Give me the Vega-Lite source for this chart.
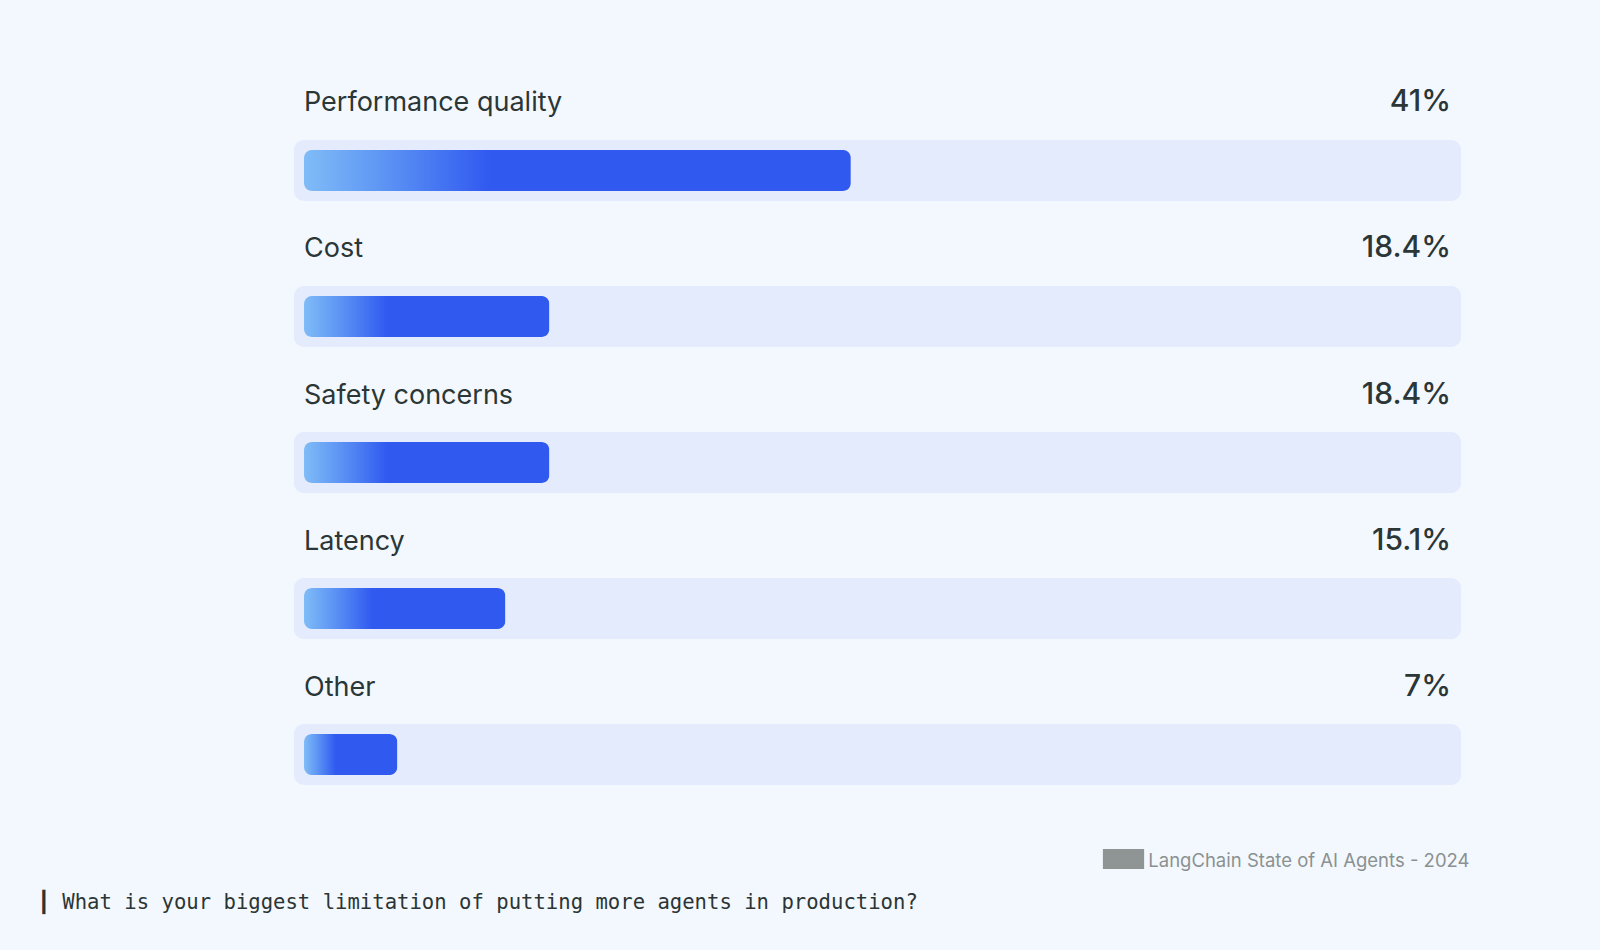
{
  "$schema": "https://vega.github.io/schema/vega-lite/v6.json",
  "width": 1167,
  "height": 645,
  "autosize": {"type": "none"},
  "padding": {"left": 294, "right": 139, "top": 140, "bottom": 165},
  "background": "#f3f8fe",
  "config": {"view": {"stroke": null}},
  "title": {
    "text": "▬",
    "orient": "bottom",
    "anchor": "end",
    "frame": "group",
    "font": "DejaVu Sans",
    "fontSize": 54,
    "fontWeight": "normal",
    "color": "#8f9595",
    "baseline": "middle",
    "offset": 0,
    "dx": -312,
    "dy": -56
  },
  "data": {
    "values": [
      {"category": "Performance quality", "pct": 0.41},
      {"category": "Cost", "pct": 0.184},
      {"category": "Safety concerns", "pct": 0.184},
      {"category": "Latency", "pct": 0.151},
      {"category": "Other", "pct": 0.07}
    ]
  },
  "encoding": {
    "y": {
      "field": "category",
      "type": "nominal",
      "sort": null,
      "scale": {"paddingInner": 0.5825, "paddingOuter": 0},
      "axis": {
        "domain": false, "ticks": false, "labels": false, "grid": false,
        "title": "LangChain State of AI Agents - 2024",
        "titleAngle": 0,
        "titleX": 1175,
        "titleY": 726,
        "titleAlign": "right",
        "titleBaseline": "alphabetic",
        "titleFont": "Inter",
        "titleFontSize": 18.5,
        "titleFontWeight": "normal",
        "titleColor": "#8b9191"
      }
    }
  },
  "layer": [
    {
      "mark": {"type": "bar", "color": "#e3ebfd", "cornerRadius": 10},
      "encoding": {"x": {"value": 0}, "x2": {"value": "width"}}
    },
    {
      "mark": {
        "type": "bar",
        "height": 41,
        "cornerRadius": 8,
        "color": {
          "gradient": "linear",
          "x1": 0, "y1": 0, "x2": 1, "y2": 0,
          "stops": [
            {"offset": 0, "color": "#80bcf7"},
            {"offset": 0.14, "color": "#5e96f4"},
            {"offset": 0.34, "color": "#3059f0"},
            {"offset": 1, "color": "#3059f0"}
          ]
        }
      },
      "encoding": {
        "x": {
          "field": "pct",
          "type": "quantitative",
          "scale": {"domain": [0, 0.86], "range": [10, 1157], "nice": false, "zero": true},
          "axis": {
            "domain": false, "ticks": false, "labels": false, "grid": false,
            "title": "┃ What is your biggest limitation of putting more agents in production?",
            "titleX": -257,
            "titleY": 123,
            "titleAlign": "left",
            "titleBaseline": "alphabetic",
            "titleFont": "DejaVu Sans Mono",
            "titleFontSize": 20.6,
            "titleFontWeight": "normal",
            "titleColor": "#2b3535"
          }
        }
      }
    },
    {
      "mark": {
        "type": "text",
        "align": "left",
        "baseline": "alphabetic",
        "dy": -59,
        "font": "Inter",
        "fontSize": 27,
        "color": "#2b3636"
      },
      "encoding": {
        "x": {"datum": 0},
        "text": {"field": "category"}
      }
    },
    {
      "mark": {
        "type": "text",
        "align": "right",
        "baseline": "alphabetic",
        "dy": -59,
        "dx": -10,
        "font": "Inter",
        "fontSize": 30,
        "fontWeight": 500,
        "color": "#2b3636"
      },
      "encoding": {
        "x": {"value": "width"},
        "text": {"field": "pct", "type": "quantitative", "format": ".1~%"}
      }
    }
  ]
}
